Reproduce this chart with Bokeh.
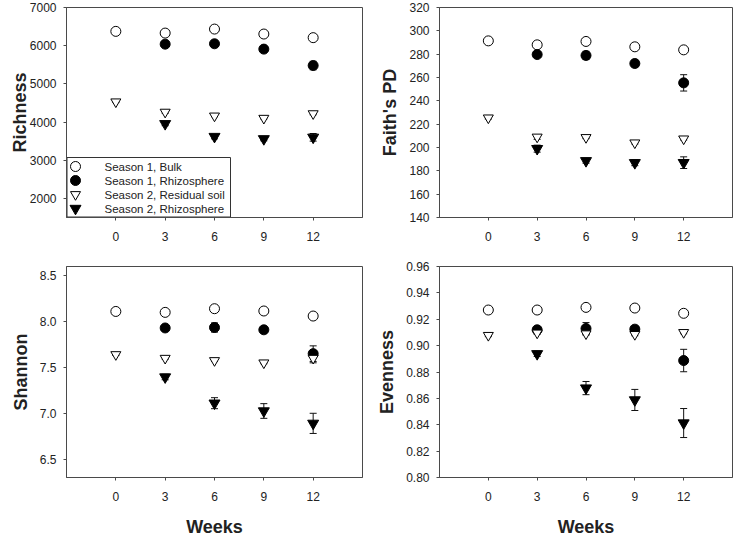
from bokeh.plotting import figure
from bokeh.layouts import column, row
from bokeh.models import (Range1d, FixedTicker, NumeralTickFormatter, Whisker,
                          ColumnDataSource, TeeHead)
from bokeh.core.properties import value
from bokeh.embed import file_html
from bokeh.resources import INLINE

# ---------------- data ----------------
weeks_all = [0, 3, 6, 9, 12]
weeks_rhizo = [3, 6, 9, 12]
series_names = ["Season 1, Bulk", "Season 1, Rhizosphere",
                "Season 2, Residual soil", "Season 2, Rhizosphere"]

richness_s1_bulk = [6375, 6330, 6435, 6305, 6210]
richness_s1_rhizo = [6040, 6050, 5910, 5480]
richness_s2_resid = [4530, 4260, 4160, 4100, 4220]
richness_s2_rhizo = [3955, 3620, 3560, 3600]
richness_s1_bulk_err = [20, 20, 20, 20, 20]
richness_s1_rhizo_err = [40, 50, 40, 110]
richness_s2_resid_err = [20, 30, 20, 20, 30]
richness_s2_rhizo_err = [50, 60, 50, 100]

faith_s1_bulk = [291.4, 288.0, 290.9, 286.3, 283.7]
faith_s1_rhizo = [279.7, 278.9, 272.0, 255.4]
faith_s2_resid = [225.4, 209.0, 208.6, 204.0, 207.4]
faith_s2_rhizo = [199.0, 188.6, 186.9, 187.0]
faith_s1_bulk_err = [1, 1, 1, 1, 1]
faith_s1_rhizo_err = [2, 3.5, 3, 7]
faith_s2_resid_err = [1, 2, 1, 1, 1]
faith_s2_rhizo_err = [3, 2, 2.5, 5]

shannon_s1_bulk = [8.11, 8.10, 8.14, 8.115, 8.06]
shannon_s1_rhizo = [7.93, 7.935, 7.91, 7.65]
shannon_s2_resid = [7.64, 7.60, 7.575, 7.55, 7.60]
shannon_s2_rhizo = [7.395, 7.11, 7.025, 6.89]
shannon_s1_bulk_err = [0.01, 0.01, 0.01, 0.01, 0.01]
shannon_s1_rhizo_err = [0.03, 0.05, 0.03, 0.085]
shannon_s2_resid_err = [0.01, 0.01, 0.01, 0.01, 0.05]
shannon_s2_rhizo_err = [0.03, 0.06, 0.08, 0.11]

evenness_s1_bulk = [0.927, 0.927, 0.929, 0.9285, 0.9245]
evenness_s1_rhizo = [0.912, 0.913, 0.9125, 0.8887]
evenness_s2_resid = [0.9078, 0.9096, 0.909, 0.9085, 0.910]
evenness_s2_rhizo = [0.8938, 0.8678, 0.8588, 0.8413]
evenness_s1_bulk_err = [0.001, 0.001, 0.001, 0.001, 0.001]
evenness_s1_rhizo_err = [0.002, 0.0045, 0.002, 0.0085]
evenness_s2_resid_err = [0.001, 0.001, 0.001, 0.001, 0.001]
evenness_s2_rhizo_err = [0.002, 0.005, 0.008, 0.011]

x_ticks = [0, 3, 6, 9, 12]
richness_ticks = [2000, 3000, 4000, 5000, 6000, 7000]
faith_ticks = [140, 160, 180, 200, 220, 240, 260, 280, 300, 320]
shannon_ticks = [6.5, 7.0, 7.5, 8.0, 8.5]
evenness_ticks = [0.80, 0.82, 0.84, 0.86, 0.88, 0.90, 0.92, 0.94, 0.96]

FONT = "Liberation Sans"
AX = "#4a4a4a"
TXT = "#222222"

styles = [
    dict(marker="circle", fill_color="white", line_color="black", size=10),
    dict(marker="circle", fill_color="black", line_color="black", size=10),
    dict(marker="inverted_triangle", fill_color="white", line_color="black", size=10),
    dict(marker="inverted_triangle", fill_color="black", line_color="black", size=11),
]


def add_legend(p, frame_w, frame_h):
    # legend drawn in frame pixel units (separate pixel ranges)
    p.extra_x_ranges = {"px": Range1d(0, frame_w)}
    p.extra_y_ranges = {"py": Range1d(0, frame_h)}
    box_w, row_h, pad = 164, 14, 2
    n = len(series_names)
    box_h = n * row_h + 2 * pad
    p.quad(left=0.5, right=box_w, bottom=0.5, top=box_h, x_range_name="px",
           y_range_name="py", fill_color="white", line_color="#333333", line_width=1)
    ys = [box_h - pad - (i + 0.5) * row_h for i in range(n)]
    for i, st in enumerate(styles):
        p.scatter(x=[9], y=[ys[i]], x_range_name="px", y_range_name="py",
                  marker=st["marker"], size=st["size"], fill_color=st["fill_color"],
                  line_color=st["line_color"], line_width=1)
    p.text(x=[38] * n, y=ys, text=series_names, x_range_name="px", y_range_name="py",
           text_font=value(FONT), text_font_size=value("11.5px"), text_color=TXT,
           text_baseline="middle", text_align="left")


def make_panel(series, ylabel, yr, yticks, yfmt, left_border, frame_w, frame_h,
               top_border, bottom_border, show_xlabel, ylabel_standoff, legend=False):
    p = figure(frame_width=frame_w, frame_height=frame_h, output_backend="svg",
               toolbar_location=None, x_range=Range1d(-3, 15), y_range=Range1d(*yr),
               min_border_left=left_border, min_border_right=8,
               min_border_top=top_border, min_border_bottom=bottom_border)
    p.grid.visible = False
    p.outline_line_color = AX
    p.outline_line_width = 1
    p.background_fill_color = "white"
    p.border_fill_color = "white"

    for ax in (p.xaxis[0], p.yaxis[0]):
        ax.axis_line_color = AX
        ax.major_tick_line_color = AX
        ax.minor_tick_line_color = None
        ax.major_tick_in = 0
        ax.major_tick_out = 3
        ax.major_label_text_font = FONT
        ax.major_label_text_font_size = "12px"
        ax.major_label_text_color = TXT
        ax.axis_label_text_font = FONT
        ax.axis_label_text_font_size = "18px"
        ax.axis_label_text_font_style = "bold"
        ax.axis_label_text_color = TXT

    p.xaxis.ticker = FixedTicker(ticks=x_ticks)
    p.xaxis.major_label_standoff = 11
    p.yaxis.ticker = FixedTicker(ticks=yticks)
    p.yaxis.formatter = NumeralTickFormatter(format=yfmt)
    p.yaxis.major_label_standoff = 7
    p.yaxis.axis_label = ylabel
    p.yaxis.axis_label_standoff = ylabel_standoff
    if show_xlabel:
        p.xaxis.axis_label = "Weeks"
        p.xaxis.axis_label_standoff = 13

    for (xs, ys, errs), st in zip(series, styles):
        src = ColumnDataSource(dict(x=xs, y=ys,
                                    upper=[a + b for a, b in zip(ys, errs)],
                                    lower=[a - b for a, b in zip(ys, errs)]))
        w = Whisker(base="x", upper="upper", lower="lower", source=src,
                    dimension="height", line_color="#111111", line_width=1,
                    upper_head=TeeHead(size=7, line_color="#111111", line_width=1),
                    lower_head=TeeHead(size=7, line_color="#111111", line_width=1),
                    level="underlay")
        p.add_layout(w)
        p.scatter("x", "y", source=src, marker=st["marker"], size=st["size"],
                  fill_color=st["fill_color"], line_color=st["line_color"],
                  line_width=1)

    if legend:
        add_legend(p, frame_w, frame_h)
    return p


p1 = make_panel([(weeks_all, richness_s1_bulk, richness_s1_bulk_err),
                 (weeks_rhizo, richness_s1_rhizo, richness_s1_rhizo_err),
                 (weeks_all, richness_s2_resid, richness_s2_resid_err),
                 (weeks_rhizo, richness_s2_rhizo, richness_s2_rhizo_err)],
                "Richness", (1500, 7000), richness_ticks, "0", 66, 296, 210, 7, 42,
                False, -3, legend=True)
p2 = make_panel([(weeks_all, faith_s1_bulk, faith_s1_bulk_err),
                 (weeks_rhizo, faith_s1_rhizo, faith_s1_rhizo_err),
                 (weeks_all, faith_s2_resid, faith_s2_resid_err),
                 (weeks_rhizo, faith_s2_rhizo, faith_s2_rhizo_err)],
                "Faith's PD", (140, 320), faith_ticks, "0", 69, 293, 210, 7, 42,
                False, 6)
p3 = make_panel([(weeks_all, shannon_s1_bulk, shannon_s1_bulk_err),
                 (weeks_rhizo, shannon_s1_rhizo, shannon_s1_rhizo_err),
                 (weeks_all, shannon_s2_resid, shannon_s2_resid_err),
                 (weeks_rhizo, shannon_s2_rhizo, shannon_s2_rhizo_err)],
                "Shannon", (6.3, 8.6), shannon_ticks, "0.0", 66, 296, 211, 7, 59,
                True, 6)
p4 = make_panel([(weeks_all, evenness_s1_bulk, evenness_s1_bulk_err),
                 (weeks_rhizo, evenness_s1_rhizo, evenness_s1_rhizo_err),
                 (weeks_all, evenness_s2_resid, evenness_s2_resid_err),
                 (weeks_rhizo, evenness_s2_rhizo, evenness_s2_rhizo_err)],
                "Evenness", (0.80, 0.96), evenness_ticks, "0.00", 69, 293, 211, 7, 59,
                True, 6)

layout = column(row(p1, p2), row(p3, p4))
open("out.html", "w").write(file_html(layout, INLINE))
